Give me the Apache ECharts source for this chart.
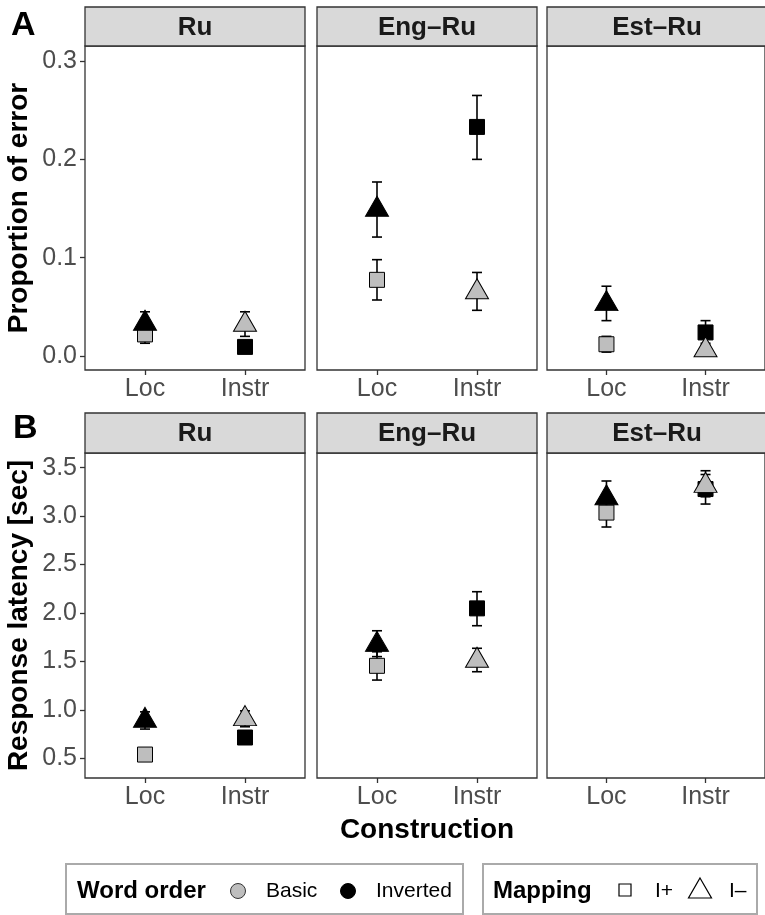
<!DOCTYPE html>
<html><head><meta charset="utf-8">
<script src="https://cdn.jsdelivr.net/npm/echarts@6/dist/echarts.min.js"></script>
<style>html,body{margin:0;padding:0;background:#fff}#c{width:765px;height:915px}</style>
</head><body><div id="c"></div>
<script>
// ---------- data ----------
const groups = ['Ru', 'Eng\u2013Ru', 'Est\u2013Ru'];
const constructions = ['Loc', 'Instr'];
const wordOrders = ['Basic', 'Inverted'];
// mapping of each word order per construction
const mappingLoc = ['I+', 'I\u2013'];    // Basic, Inverted at Loc
const mappingInstr = ['I\u2013', 'I+'];  // Basic, Inverted at Instr
const yTicksA = [0, 0.1, 0.2, 0.3];
const yTicksB = [0.5, 1.0, 1.5, 2.0, 2.5, 3.0, 3.5];

// Panel A: proportion of error, rows = groups, [Loc, Instr]
const errBasicMean = [[0.022, 0.032], [0.0775, 0.065], [0.012, 0.006]];
const errBasicLow  = [[0.013, 0.020], [0.057, 0.0465], [0.004, 0.001]];
const errBasicHigh = [[0.031, 0.045], [0.098, 0.085], [0.020, 0.011]];
const errInvMean   = [[0.033, 0.0093], [0.149, 0.233], [0.053, 0.024]];
const errInvLow    = [[0.022, 0.006], [0.121, 0.200], [0.036, 0.013]];
const errInvHigh   = [[0.045, 0.013], [0.177, 0.265], [0.071, 0.036]];

// Panel B: response latency [sec]
const latBasicMean = [[0.539, 0.907], [1.455, 1.509], [3.037, 3.315]];
const latBasicLow  = [[0.50, 0.826], [1.308, 1.394], [2.888, 3.20]];
const latBasicHigh = [[0.58, 0.99], [1.60, 1.636], [3.19, 3.469]];
const latInvMean   = [[0.889, 0.715], [1.673, 2.048], [3.187, 3.28]];
const latInvLow    = [[0.802, 0.68], [1.55, 1.869], [3.00, 3.125]];
const latInvHigh   = [[0.98, 0.75], [1.817, 2.220], [3.363, 3.43]];

// ---------- build ----------
const FF = '"Liberation Sans", Arial, Helvetica, sans-serif';
const GREY = '#BEBEBE';
const rows = [
  {mean: [errBasicMean, errInvMean], low: [errBasicLow, errInvLow], high: [errBasicHigh, errInvHigh],
   min: -0.0142, max: 0.3153, ticks: yTicksA, top: 46, height: 324, stripTop: 7, name: 'Proportion of error'},
  {mean: [latBasicMean, latInvMean], low: [latBasicLow, latInvLow], high: [latBasicHigh, latInvHigh],
   min: 0.297, max: 3.652, ticks: yTicksB, top: 453, height: 325, stripTop: 413, name: 'Response latency [sec]'}
];
const panelLeft = [85, 317, 547];
const panelW = 220;

const grid = [], xAxis = [], yAxis = [], series = [], graphic = [];

function errRender(params, api) {
  const x = api.value(0), lo = api.value(1), hi = api.value(2);
  const a = api.coord([x, lo]), b = api.coord([x, hi]);
  const w = 5;
  const st = {stroke: '#000', lineWidth: 1.6};
  return {type: 'group', children: [
    {type: 'line', shape: {x1: a[0], y1: a[1], x2: b[0], y2: b[1]}, style: st},
    {type: 'line', shape: {x1: a[0] - w, y1: a[1], x2: a[0] + w, y2: a[1]}, style: st},
    {type: 'line', shape: {x1: b[0] - w, y1: b[1], x2: b[0] + w, y2: b[1]}, style: st}
  ]};
}

rows.forEach((row, r) => {
  groups.forEach((g, gi) => {
    const idx = r * 3 + gi;
    grid.push({left: panelLeft[gi], top: row.top, width: panelW, height: row.height,
      show: true, borderColor: '#333333', borderWidth: 1.3, backgroundColor: '#fff'});
    xAxis.push({gridIndex: idx, type: 'value', min: 0.4, max: 2.6, position: 'bottom',
      axisLine: {show: false, onZero: false}, splitLine: {show: false},
      axisTick: {show: true, length: 5, customValues: [1, 2], lineStyle: {color: '#333333', width: 1.3}},
      axisLabel: {show: true, customValues: [1, 2], margin: 7, fontSize: 25, fontFamily: FF, color: '#4D4D4D',
        formatter: v => constructions[Math.round(v) - 1] || ''},
      name: (r === 1 && gi === 1) ? 'Construction' : '', nameLocation: 'middle', nameGap: 38,
      nameTextStyle: {fontSize: 28, fontWeight: 'bold', fontFamily: FF, color: '#000'}
    });
    yAxis.push({gridIndex: idx, type: 'value', min: row.min, max: row.max,
      axisLine: {show: false, onZero: false}, splitLine: {show: false},
      axisTick: {show: gi === 0, length: 5, customValues: row.ticks, lineStyle: {color: '#333333', width: 1.3}},
      axisLabel: {show: gi === 0, customValues: row.ticks, margin: 8, fontSize: 25, fontFamily: FF, color: '#4D4D4D',
        formatter: v => v.toFixed(1)},
      name: gi === 0 ? row.name : '', nameLocation: 'middle', nameGap: 52, nameRotate: 90,
      nameTextStyle: {fontSize: 28, fontWeight: 'bold', fontFamily: FF, color: '#000'}
    });
    // strip
    graphic.push({type: 'rect', shape: {x: panelLeft[gi], y: row.stripTop, width: panelW, height: row.top - row.stripTop},
      style: {fill: '#D9D9D9', stroke: '#333333', lineWidth: 1.3}, z: 10});
    graphic.push({type: 'text', x: panelLeft[gi] + panelW / 2, y: (row.stripTop + row.top) / 2 + 1,
      style: {text: g, font: 'bold 26px ' + FF, fill: '#1A1A1A', align: 'center', verticalAlign: 'middle',
        textAlign: 'center', textVerticalAlign: 'middle'}, z: 11});

    // error bars
    [0, 1].forEach(o => {
      series.push({type: 'custom', xAxisIndex: idx, yAxisIndex: idx, z: 2,
        renderItem: errRender, encode: {x: 0, y: [1, 2]},
        data: constructions.map((c, ci) => [ci + 1, row.low[o][gi][ci], row.high[o][gi][ci]])});
    });
    // squares (I+) then triangles (I–)
    ['I+', 'I\u2013'].forEach((mp, mi) => {
      const data = [];
      constructions.forEach((c, ci) => {
        wordOrders.forEach((wo, o) => {
          const m = ci === 0 ? mappingLoc[o] : mappingInstr[o];
          if (m !== mp) return;
          data.push({value: [ci + 1, row.mean[o][gi][ci]],
            itemStyle: {color: o === 0 ? GREY : '#000', borderColor: '#000', borderWidth: 1, opacity: 1}});
        });
      });
      series.push({type: 'scatter', xAxisIndex: idx, yAxisIndex: idx, z: 3 + mi,
        symbol: mi === 0 ? 'rect' : 'triangle',
        symbolSize: mi === 0 ? 15 : [23, 20],
        symbolOffset: mi === 0 ? [0, 0] : [0, -3.3],
        itemStyle: {opacity: 1},
        silent: true, data});
    });
  });
});

// panel letters
graphic.push({type: 'text', x: 11, y: 9, style: {text: 'A', font: 'bold 34px ' + FF, fill: '#000'}});
graphic.push({type: 'text', x: 13, y: 412, style: {text: 'B', font: 'bold 34px ' + FF, fill: '#000'}});

// legends (boxes)
const legY = 891;
graphic.push({type: 'rect', shape: {x: 66, y: 864, width: 397, height: 50}, style: {fill: '#fff', stroke: '#AAAAAA', lineWidth: 2}});
graphic.push({type: 'text', x: 77, y: legY, style: {text: 'Word order', font: 'bold 24px ' + FF, fill: '#000', verticalAlign: 'middle', textVerticalAlign: 'middle'}});
graphic.push({type: 'circle', shape: {cx: 238, cy: legY, r: 7.5}, style: {fill: GREY, stroke: '#333', lineWidth: 1}});
graphic.push({type: 'text', x: 266, y: legY, style: {text: wordOrders[0], font: '21px ' + FF, fill: '#000', verticalAlign: 'middle', textVerticalAlign: 'middle'}});
graphic.push({type: 'circle', shape: {cx: 348, cy: legY, r: 7.5}, style: {fill: '#000', stroke: '#000', lineWidth: 1}});
graphic.push({type: 'text', x: 376, y: legY, style: {text: wordOrders[1], font: '21px ' + FF, fill: '#000', verticalAlign: 'middle', textVerticalAlign: 'middle'}});

graphic.push({type: 'rect', shape: {x: 483, y: 864, width: 274, height: 50}, style: {fill: '#fff', stroke: '#AAAAAA', lineWidth: 2}});
graphic.push({type: 'text', x: 493, y: legY, style: {text: 'Mapping', font: 'bold 24px ' + FF, fill: '#000', verticalAlign: 'middle', textVerticalAlign: 'middle'}});
graphic.push({type: 'rect', shape: {x: 619, y: 884, width: 12, height: 12}, style: {fill: '#fff', stroke: '#000', lineWidth: 1.2}});
graphic.push({type: 'text', x: 655, y: legY, style: {text: 'I+', font: '21px ' + FF, fill: '#000', verticalAlign: 'middle', textVerticalAlign: 'middle'}});
graphic.push({type: 'polygon', shape: {points: [[700, 878], [711.5, 898], [688.5, 898]]}, style: {fill: '#fff', stroke: '#000', lineWidth: 1.2}});
graphic.push({type: 'text', x: 729, y: legY, style: {text: 'I\u2013', font: '21px ' + FF, fill: '#000', verticalAlign: 'middle', textVerticalAlign: 'middle'}});

const chart = echarts.init(document.getElementById('c'), null, {renderer: 'canvas'});
chart.setOption({
  animation: false,
  backgroundColor: '#fff',
  textStyle: {fontFamily: FF},
  grid, xAxis, yAxis, series, graphic
});
</script></body></html>
